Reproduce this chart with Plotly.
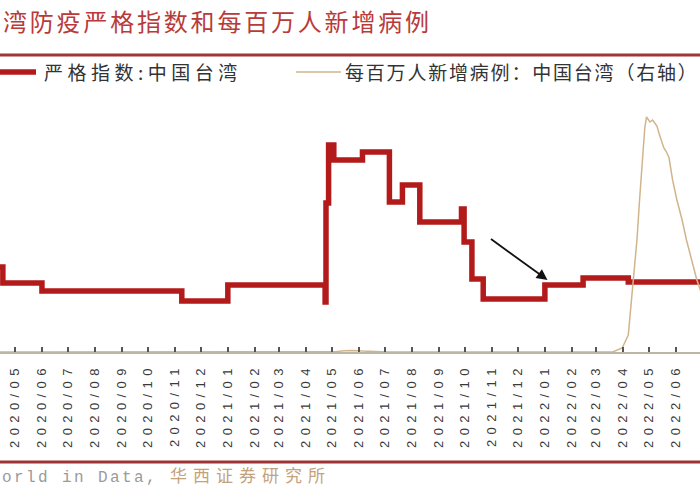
import plotly.graph_objects as go

# ---------------- data ----------------
stringency_dates = [
    "2020-04-13", "2020-04-17", "2020-06-01", "2020-11-09", "2021-01-01",
    "2021-04-23", "2021-04-24", "2021-04-27", "2021-05-03", "2021-06-05",
    "2021-07-06", "2021-07-21", "2021-08-10", "2021-09-27", "2021-09-30",
    "2021-10-09", "2021-10-22", "2022-01-01", "2022-02-14", "2022-04-07",
    "2022-06-30",
]
stringency_values = [
    28.3, 23.0, 20.3, 17.0, 22.3,
    16.7, 49.7, 69.0, 64.0, 66.7,
    50.0, 55.7, 43.3, 47.7, 36.7,
    24.3, 17.7, 22.3, 24.7, 23.3,
    23.3,
]

case_dates = [
    "2020-04-13", "2021-04-20", "2021-05-05", "2021-05-15", "2021-05-25",
    "2021-06-05", "2021-06-20", "2021-07-05", "2022-03-20", "2022-03-26",
    "2022-03-31", "2022-04-07", "2022-04-12", "2022-04-17", "2022-04-20",
    "2022-04-24", "2022-04-26", "2022-04-28", "2022-05-02", "2022-05-05",
    "2022-05-10", "2022-05-13", "2022-05-18", "2022-05-21", "2022-05-24",
    "2022-05-28", "2022-06-02", "2022-06-08", "2022-06-13", "2022-06-19",
    "2022-06-25", "2022-07-01",
]
case_values = [
    0, 0, 5, 22, 25,
    15, 6, 1, 0, 30,
    67, 283, 1033, 1867, 2533,
    3367, 3733, 3917, 3833, 3867,
    3767, 3617, 3400, 3333, 3233,
    2867, 2533, 2200, 1867, 1533,
    1200, 950,
]

tick_labels = [
    "2020/05", "2020/06", "2020/07", "2020/08", "2020/09", "2020/10",
    "2020/11", "2020/12", "2021/01", "2021/02", "2021/03", "2021/04",
    "2021/05", "2021/06", "2021/07", "2021/08", "2021/09", "2021/10",
    "2021/11", "2021/12", "2022/01", "2022/02", "2022/03", "2022/04",
    "2022/05", "2022/06",
]

title_text = "湾防疫严格指数和每百万人新增病例"
legend_red = "严格指数:中国台湾"
legend_tan = "每百万人新增病例：中国台湾（右轴）"
source_latin = "orld in Data, "
source_cn = "华西证券研究所"

# ---------------- styling ----------------
RED = "#B31B1B"
TAN = "#D2B48C"
FRAME = "#9E3535"
CJK = "Noto Sans CJK SC"

W, H = 700, 500
PLOT_TOP, PLOT_BOT = 112, 352          # pixel rows of the plot area
PH = PLOT_BOT - PLOT_TOP


def py(pix):
    """pixel row -> paper y"""
    return (PLOT_BOT - pix) / PH


def px(pix):
    """pixel column -> paper x"""
    return pix / W


tickvals = [lbl.replace("/", "-") + "-01" for lbl in tick_labels]
ticktext = ['<span style="letter-spacing:5.4px">%s</span>' % t for t in tick_labels]

fig = go.Figure()
fig.add_trace(go.Scatter(
    x=stringency_dates, y=stringency_values, mode="lines",
    line=dict(color=RED, width=5.5, shape="hv"), yaxis="y",
    name=legend_red, showlegend=False,
))
fig.add_trace(go.Scatter(
    x=case_dates, y=case_values, mode="lines",
    line=dict(color=TAN, width=1.5), yaxis="y2",
    name=legend_tan, showlegend=False,
))

fig.update_layout(
    width=W, height=H,
    margin=dict(l=0, r=0, t=PLOT_TOP, b=H - PLOT_BOT, autoexpand=False),
    paper_bgcolor="white", plot_bgcolor="white",
    xaxis=dict(
        type="date",
        range=["2020-04-13 17:00", "2022-06-28 14:00"],
        tickmode="array", tickvals=tickvals, ticktext=ticktext,
        tickangle=-90,
        ticks="inside", ticklen=5, tickwidth=1.5, tickcolor="#555555",
        showline=True, linecolor="#BDB5A5", linewidth=2,
        showgrid=False, zeroline=False,
        tickfont=dict(family="Liberation Sans, Arial", size=13, color="#3a3a3a"),
        ticklabelstandoff=4,
    ),
    yaxis=dict(range=[0, 80], visible=False),
    yaxis2=dict(range=[0, 4000], overlaying="y", side="right", visible=False),
    showlegend=False,
)

shapes = [
    # top and bottom frame rules
    dict(type="line", xref="paper", yref="paper", x0=0, x1=1,
         y0=py(55), y1=py(55), line=dict(color=FRAME, width=3)),
    dict(type="line", xref="paper", yref="paper", x0=0, x1=1,
         y0=py(462), y1=py(462), line=dict(color=FRAME, width=3)),
    # legend samples
    dict(type="line", xref="paper", yref="paper", x0=px(0), x1=px(36),
         y0=py(72), y1=py(72), line=dict(color=RED, width=5.5)),
    dict(type="line", xref="paper", yref="paper", x0=px(296), x1=px(341),
         y0=py(72), y1=py(72), line=dict(color=TAN, width=1.5)),
]
fig.update_layout(shapes=shapes)

annotations = [
    dict(xref="paper", yref="paper", x=px(1), y=py(20), xanchor="left", yanchor="middle",
         showarrow=False,
         text='<span style="letter-spacing:2.8px">%s</span>' % title_text,
         font=dict(family=CJK, size=24, color="#B93A3A")),
    dict(xref="paper", yref="paper", x=px(42), y=py(72), xanchor="left", yanchor="middle",
         showarrow=False,
         text='<span style="letter-spacing:4.5px">%s</span>' % legend_red,
         font=dict(family=CJK, size=19, color="#333333")),
    dict(xref="paper", yref="paper", x=px(343), y=py(72), xanchor="left", yanchor="middle",
         showarrow=False,
         text='<span style="letter-spacing:1.8px">%s</span>' % legend_tan,
         font=dict(family=CJK, size=19, color="#333333")),
    dict(xref="paper", yref="paper", x=px(0), y=py(474), xanchor="left", yanchor="middle",
         showarrow=False,
         text=('<span style="font-family:\'Liberation Mono\';font-size:16px;letter-spacing:2.4px;color:#9a9a9a">%s</span>'
               '<span style="letter-spacing:6px;color:#C4A27C">%s</span>') % (source_latin, source_cn),
         font=dict(family=CJK, size=17, color="#9a9a9a")),
    # arrow pointing at the 2022/01 step
    dict(xref="x", yref="y", x="2022-01-04", y=24, ax=-58, ay=-42,
         showarrow=True, arrowhead=2, arrowsize=1.2, arrowwidth=1.8,
         arrowcolor="#111111", text=""),
]
fig.update_layout(annotations=annotations)

# remove the default 8px page margin so the figure sits at the window's top-left corner
fig.write_html(
    "out.html",
    config={"displayModeBar": False},
    post_script="document.body.style.margin='0';",
)
